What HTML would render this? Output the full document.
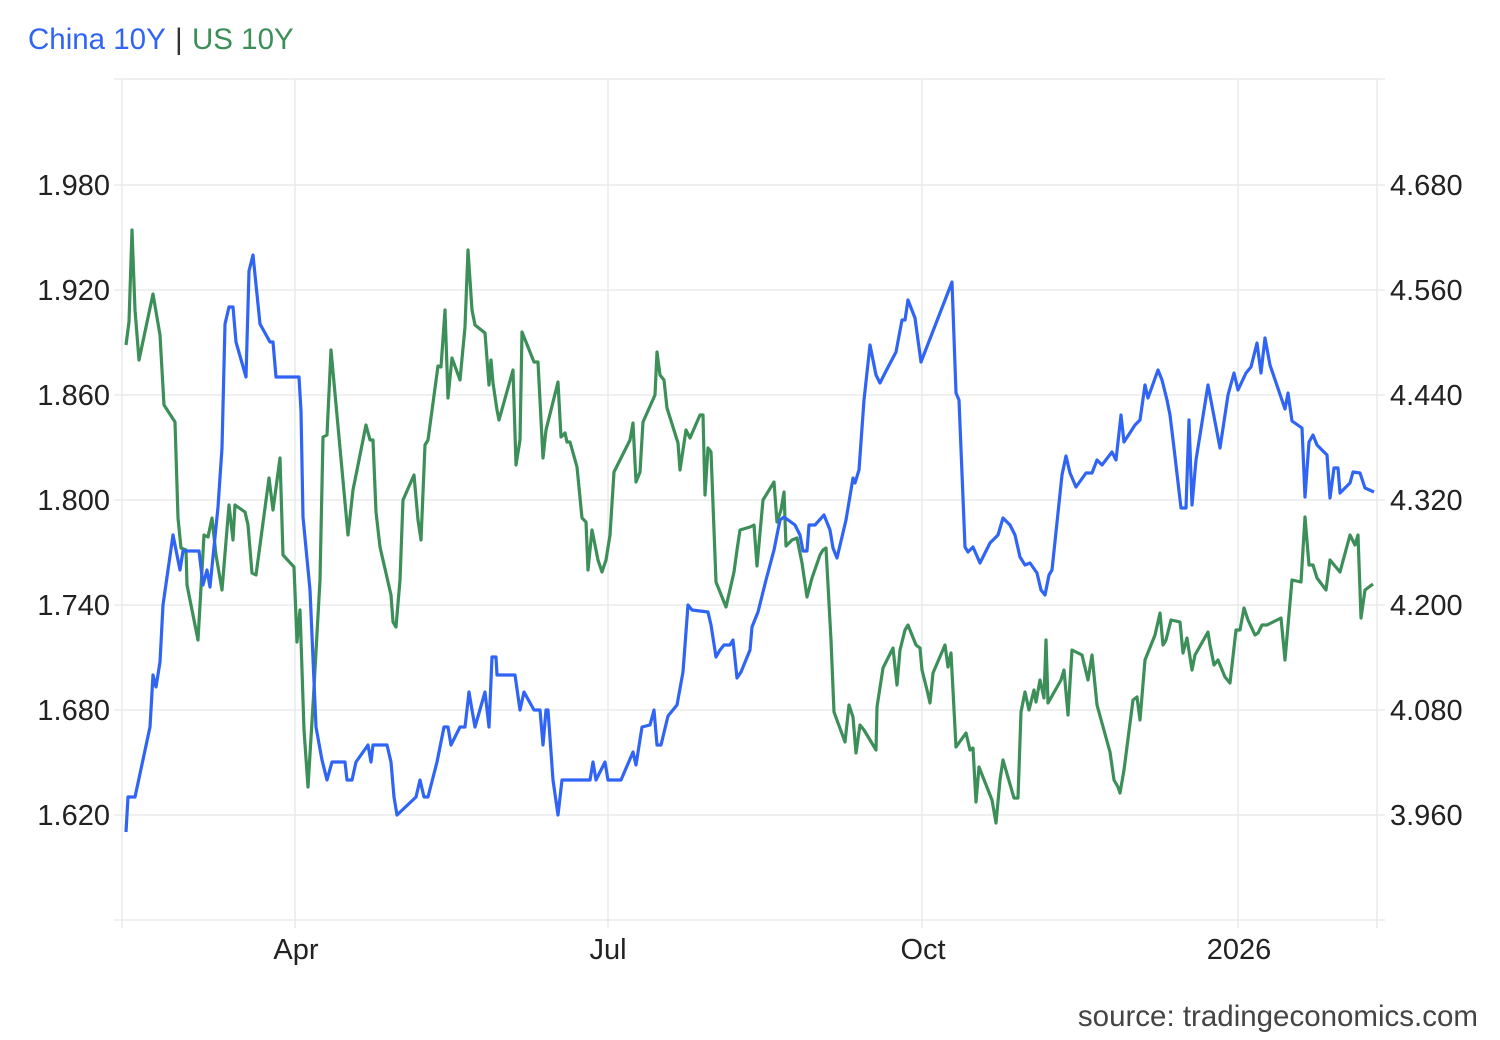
<!DOCTYPE html>
<html><head><meta charset="utf-8"><style>
html,body{margin:0;padding:0;background:#fff;}
svg{display:block;font-family:"Liberation Sans",Arial,sans-serif;}
</style></head><body>
<svg width="1500" height="1040" viewBox="0 0 1500 1040" xmlns="http://www.w3.org/2000/svg">
<text x="28" y="49" font-size="29.5" fill="#2f64f5">China 10Y</text>
<text x="175" y="49" font-size="29.5" fill="#333">|</text>
<text x="192" y="49" font-size="29.5" fill="#3c8f58">US 10Y</text>
<g stroke="#e6e6e6" stroke-width="1.3" fill="none">
<line x1="114" y1="79" x2="1385" y2="79"/>
<line x1="114" y1="185" x2="1385" y2="185"/>
<line x1="114" y1="290" x2="1385" y2="290"/>
<line x1="114" y1="395" x2="1385" y2="395"/>
<line x1="114" y1="500" x2="1385" y2="500"/>
<line x1="114" y1="605" x2="1385" y2="605"/>
<line x1="114" y1="710" x2="1385" y2="710"/>
<line x1="114" y1="815" x2="1385" y2="815"/>
<line x1="114" y1="920" x2="1385" y2="920"/>
<line x1="122" y1="79" x2="122" y2="928"/>
<line x1="295" y1="79" x2="295" y2="928"/>
<line x1="608" y1="79" x2="608" y2="928"/>
<line x1="922" y1="79" x2="922" y2="928"/>
<line x1="1238" y1="79" x2="1238" y2="928"/>
<line x1="1377" y1="79" x2="1377" y2="928"/>
</g>
<g font-size="29" fill="#222" text-anchor="end">
<text x="110" y="195">1.980</text><text x="110" y="300">1.920</text><text x="110" y="405">1.860</text><text x="110" y="510">1.800</text><text x="110" y="615">1.740</text><text x="110" y="720">1.680</text><text x="110" y="825">1.620</text>
</g>
<g font-size="29" fill="#222">
<text x="1390" y="195">4.680</text><text x="1390" y="300">4.560</text><text x="1390" y="405">4.440</text><text x="1390" y="510">4.320</text><text x="1390" y="615">4.200</text><text x="1390" y="720">4.080</text><text x="1390" y="825">3.960</text>
</g>
<g font-size="29" fill="#222" text-anchor="middle">
<text x="296" y="959">Apr</text><text x="608" y="959">Jul</text><text x="923" y="959">Oct</text><text x="1239" y="959">2026</text>
</g>
<text x="1478" y="1026" font-size="29.5" fill="#444" text-anchor="end">source: tradingeconomics.com</text>
<polyline fill="none" stroke="#3c8f58" stroke-width="3.2" stroke-linejoin="round" points="126,345 129,322 132,230 135,310 139,360 153,294 160,335 164,405 175,422 178,518 181,548 186,550 187,585 198,640 204,535 208,537 212,518 216,555 222,590 229,505 233,540 235,505 245,512 248,525 252,573 256,575 269,478 273,510 280,458 283,555 294,567 297,642 300,610 304,730 308,787 313,705 320,580 323,437 327,435 331,350 348,535 353,490 366,425 370,440 373,440 376,512 380,547 391,595 393,622 396,627 400,580 403,500 414,475 418,520 421,540 425,445 428,440 438,366 441,367 445,310 448,398 452,358 460,380 465,327 468,250 472,310 475,325 485,333 489,385 491,360 493,383 497,410 499,420 513,370 516,465 520,440 522,332 534,362 538,362 543,458 546,430 558,382 561,437 565,433 567,442 570,442 577,467 582,518 586,522 588,570 592,530 598,560 602,572 606,560 610,535 614,472 630,440 633,423 636,482 640,472 643,422 655,395 657,352 660,375 664,380 667,408 678,443 680,470 686,430 690,438 700,415 703,415 705,495 708,448 711,452 716,582 726,607 734,572 737,550 740,530 750,527 754,525 757,566 763,500 774,482 777,522 781,510 784,492 786,546 792,540 797,538 802,563 807,597 812,578 820,555 823,550 826,548 831,640 834,712 845,742 849,705 853,717 856,753 860,725 864,730 876,750 877,707 883,668 886,662 893,648 897,685 900,650 905,630 908,625 916,645 920,648 922,670 927,690 930,703 933,673 945,645 948,667 951,653 956,747 966,733 970,750 973,748 976,802 979,767 992,800 996,823 1000,780 1003,760 1014,798 1018,798 1021,712 1025,692 1029,710 1034,690 1036,702 1040,680 1044,698 1046,640 1048,703 1061,680 1064,670 1068,715 1072,650 1082,655 1088,680 1092,655 1097,705 1110,752 1114,780 1118,787 1120,793 1124,770 1133,700 1137,697 1140,720 1145,660 1155,635 1160,613 1163,645 1166,640 1171,620 1180,622 1183,653 1187,638 1192,670 1195,655 1208,632 1210,645 1214,665 1218,660 1225,677 1230,683 1236,630 1240,630 1244,608 1248,620 1255,635 1258,633 1262,625 1267,625 1281,618 1285,660 1292,580 1301,582 1305,517 1309,565 1313,565 1317,578 1326,590 1330,560 1340,572 1350,535 1355,545 1358,535 1361,618 1365,590 1373,584"/>
<polyline fill="none" stroke="#2f64f5" stroke-width="3.2" stroke-linejoin="round" points="126,832 128,797 135,797 150,727 153,675 156,687 160,662 163,605 173,535 180,570 183,551 199,551 203,585 207,570 210,587 218,507 222,448 225,324 229,307 233,307 236,342 246,377 249,271 253,255 260,324 270,342 273,342 276,377 299,377 301,411 303,517 310,590 316,727 322,760 327,780 332,762 345,762 347,780 352,780 356,762 368,745 371,762 373,745 387,745 391,762 394,797 397,815 416,797 420,780 424,797 428,797 437,762 444,727 448,727 451,745 460,727 465,727 469,692 472,710 475,727 485,692 489,727 492,657 496,657 497,675 515,675 520,710 524,692 534,710 540,710 543,745 546,710 548,710 553,780 558,815 562,780 590,780 593,762 596,780 605,762 608,780 621,780 633,752 636,765 642,727 650,725 654,710 657,745 661,745 668,716 677,705 683,672 688,605 692,610 708,612 711,625 716,657 720,650 724,645 730,645 733,640 737,678 741,672 750,650 752,627 758,612 766,580 774,550 780,520 784,517 795,525 800,535 803,551 807,551 809,525 815,525 824,515 830,530 833,548 837,558 846,520 853,478 855,483 859,470 864,400 870,345 876,375 880,383 885,373 896,352 902,320 905,320 908,300 915,318 921,362 952,282 956,393 959,400 965,547 968,552 973,547 980,563 990,543 998,535 1003,518 1010,525 1015,535 1020,557 1025,565 1030,563 1037,573 1041,590 1045,595 1049,575 1052,570 1062,475 1066,456 1070,473 1076,487 1086,473 1092,473 1097,460 1102,465 1112,452 1116,460 1121,415 1124,442 1135,425 1140,420 1145,385 1148,398 1158,370 1162,380 1167,400 1170,415 1174,448 1181,508 1186,508 1189,420 1192,505 1196,460 1208,385 1220,448 1228,395 1234,373 1238,390 1246,373 1251,367 1257,343 1261,373 1265,338 1270,365 1285,409 1288,393 1292,421 1302,428 1305,497 1309,442 1313,435 1317,445 1327,455 1330,498 1334,468 1338,468 1340,493 1350,483 1353,472 1360,473 1365,488 1374,492"/>
</svg>
</body></html>
